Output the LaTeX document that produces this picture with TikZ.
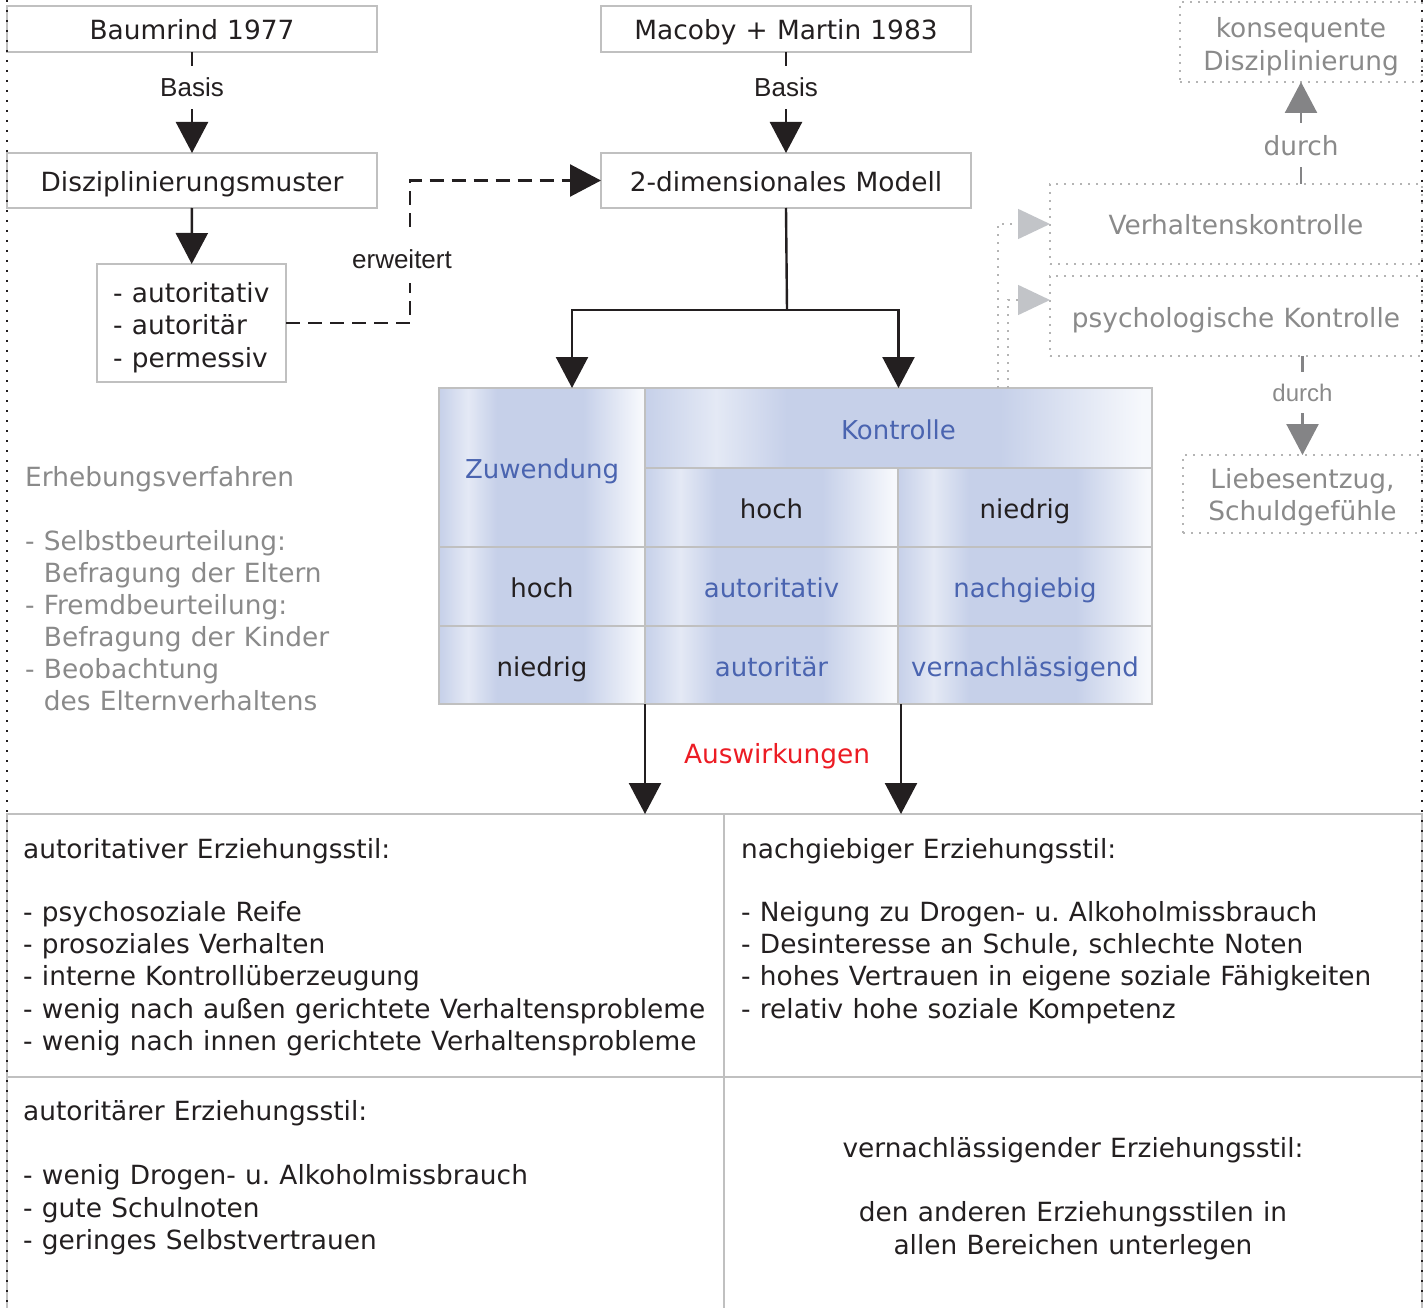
\documentclass[tikz,border=0pt]{standalone}
\usepackage{fontspec}
\setmainfont{DejaVu Sans}[WordSpace=1.1]
\newfontfamily\arialfont{Liberation Sans}
\usetikzlibrary{arrows.meta}
\frenchspacing

\definecolor{boxgray}{HTML}{C0C0C0}
\definecolor{txtgray}{HTML}{8A8A8A}
\definecolor{dotgray}{HTML}{B4B4B4}
\definecolor{arrgray}{HTML}{848486}
\definecolor{tipgray}{HTML}{C2C4C8}
\definecolor{cellblue}{HTML}{C6D0E9}
\definecolor{celllight}{HTML}{E4E9F5}
\definecolor{cellwhite}{HTML}{F6F8FC}
\definecolor{bluetext}{HTML}{4A64B0}
\definecolor{redtext}{HTML}{EC1C24}
\definecolor{ink}{HTML}{231F20}

% soft horizontal sheen used in every cell of the matrix
\pgfdeclarehorizontalshading{cellshade}{100bp}{color(0bp)=(cellblue); color(25bp)=(cellblue); color(32bp)=(celllight); color(39bp)=(cellblue); color(60bp)=(cellblue); color(74bp)=(cellwhite); color(100bp)=(cellwhite)}

\tikzset{
  basefont/.style={font=\fontsize{26.4}{32.3}\selectfont},
  cellfont/.style={font=\fontsize{26}{32}\selectfont},
  box/.style={basefont, draw=boxgray, line width=2.4pt, inner sep=0pt, outer sep=0pt, text=ink},
  oneline/.style={text height=24pt, text depth=2pt},
  cell/.style={cellfont, oneline, draw=boxgray, line width=2.6pt, shading=cellshade, inner sep=0pt, outer sep=0pt, text=ink},
  hdr/.style={cell, text=bluetext},
  softbox/.style={basefont, draw=dotgray, line width=1.6pt, dash pattern=on 1.6pt off 6.4pt, inner sep=0pt, outer sep=0pt, text=txtgray, align=center},
  arr/.style={draw=ink, line width=2.4pt, -{Triangle[length=31pt,width=32pt]}},
  plain/.style={draw=ink, line width=2.4pt},
  dashconn/.style={draw=ink, line width=2.4pt, dash pattern=on 14pt off 8pt, -{Triangle[length=31pt,width=32pt]}},
  grayarr/.style={draw=arrgray, line width=2.4pt, -{Triangle[length=31pt,width=32pt,color=arrgray]}},
  softconn/.style={draw=dotgray, line width=1.6pt, dash pattern=on 1.6pt off 6.4pt, -{Triangle[length=32pt,width=30pt,color=tipgray]}},
  lbl/.style={font=\fontsize{26}{30}\selectfont\arialfont, text=ink, fill=white, inner xsep=4pt, inner ysep=12pt},
  softlbl/.style={basefont, text=txtgray, fill=white, inner xsep=4pt, inner ysep=12pt},
  txt/.style={basefont, text=ink, inner sep=0pt, align=left},
  graytxt/.style={font=\fontsize{26.4}{32}\selectfont, text=txtgray, inner sep=0pt, align=left},
  pageborder/.style={draw=ink, line width=2pt, dash pattern=on 2pt off 8pt},
}

\begin{document}
\begin{tikzpicture}[x=1pt, y=-1pt]
\useasboundingbox (0,0) rectangle (1428,1308);

% --- left branch: Baumrind
\node[box, oneline, minimum width=370pt, minimum height=46pt] (baum) at (192,29) {Baumrind 1977};
\node[box, oneline, minimum width=370pt, minimum height=55pt] (dis) at (192,180.5) {Disziplinierungsmuster};
\node[box, minimum width=189pt, minimum height=118pt] (list) at (191.5,323) {};
\node[txt, font=\fontsize{26.4}{32.5}\selectfont, anchor=north west] (listtxt) at (113,282) {- autoritativ\\- autoritär\\- permessiv};
\draw[arr] (baum) -- node[lbl, pos=0.35] (basisA) {Basis} (dis);
\draw[arr] (dis) -- (list);

% --- right branch: Macoby + Martin
\node[box, oneline, minimum width=370pt, minimum height=46pt] (mac) at (786,29) {Macoby + Martin 1983};
\node[box, oneline, minimum width=370pt, minimum height=55pt] (model) at (786,180.5) {2-dimensionales Modell};
\draw[arr] (mac) -- node[lbl, pos=0.35] (basisB) {Basis} (model);

% --- dashed extension link
\coordinate (bend) at (410,250);
\draw[dashconn] (list.east) -| (bend) |- (model.west);
\node[lbl, inner ysep=14pt] (erw) at (402,259) {erweitert};

% --- matrix of parenting styles
\node[cell, text=bluetext, minimum width=206pt, minimum height=159pt] (zuw) at (542,467.5) {Zuwendung};
\node[hdr, minimum width=507pt, minimum height=80pt] (kon) at (898.5,428) {Kontrolle};
\node[cell, minimum width=253pt, minimum height=79pt] (khoch) at (771.5,507.5) {hoch};
\node[cell, minimum width=254pt, minimum height=79pt] (kniedrig) at (1025,507.5) {niedrig};
\node[cell, minimum width=206pt, minimum height=79pt] (zhoch) at (542,586.5) {hoch};
\node[hdr, minimum width=253pt, minimum height=79pt] (autv) at (771.5,586.5) {autoritativ};
\node[hdr, minimum width=254pt, minimum height=79pt] (nachg) at (1025,586.5) {nachgiebig};
\node[cell, minimum width=206pt, minimum height=78pt] (zniedrig) at (542,665) {niedrig};
\node[hdr, minimum width=253pt, minimum height=78pt] (autr) at (771.5,665) {autoritär};
\node[hdr, minimum width=254pt, minimum height=78pt] (vern) at (1025,665) {vernachlässigend};

% --- model splits into the two dimensions
\coordinate (split) at (787,310);
\coordinate (zin) at (572,388);
\draw[plain] (model.south) -- (split);
\draw[arr] (split) -| (zin);
\draw[arr] (split) -| (kon.north);

% --- grey side notes on control
\node[softbox, minimum width=242pt, minimum height=80pt] (kd) at (1301,42) {};
\node[basefont, text=txtgray, inner sep=0pt, align=center, anchor=north] (kdtxt) at ([yshift=-15.6pt]kd.north) {konsequente\\[0.7pt]Disziplinierung};
\node[softbox, oneline, minimum width=372pt, minimum height=80pt] (vk) at (1236,224) {Verhaltenskontrolle};
\node[softbox, oneline, minimum width=372pt, minimum height=80pt] (pk) at (1236,316) {psychologische Kontrolle};
\node[softbox, minimum width=239pt, minimum height=78pt] (le) at (1302.5,494) {};
\node[font=\fontsize{26.4}{32}\selectfont, text=txtgray, inner sep=0pt, align=center, anchor=north] (letxt) at ([yshift=-13.6pt]le.north) {Liebesentzug,\\Schuldgefühle};
\draw[grayarr] (kd.south |- vk.north) -- node[softlbl, pos=0.38] (durchA) {durch} (kd.south);
\draw[grayarr] (le.north |- pk.south) -- node[lbl, text=txtgray, pos=0.37, font=\fontsize{24}{28}\selectfont\arialfont] (durchB) {durch} (le.north);
\coordinate (vs) at (998,388);
\coordinate (ps) at (1008,388);
\draw[softconn] (vs) |- (vk.west);
\draw[softconn] (ps) |- ([yshift=16pt]pk.west);

% --- survey methods
\node[graytxt, anchor=north west] (erh) at (25,466) {Erhebungsverfahren\\[32pt]- Selbstbeurteilung:\\\hphantom{- }Befragung der Eltern\\- Fremdbeurteilung:\\\hphantom{- }Befragung der Kinder\\- Beobachtung\\\hphantom{- }des Elternverhaltens};

% --- effects
\node[box, minimum width=717pt, minimum height=263pt] (lt) at (365.5,945.5) {};
\node[box, minimum width=698pt, minimum height=263pt] (rt) at (1073,945.5) {};
\node[box, minimum width=717pt, minimum height=240pt] (lb) at (365.5,1197) {};
\node[box, minimum width=698pt, minimum height=240pt] (rb) at (1073,1197) {};
\draw[arr] (autr.south west) -- (autr.south west |- lt.north);
\draw[arr] ([xshift=3pt]autr.south east) -- ([xshift=3pt]autr.south east |- rt.north);
\node[basefont, text=redtext] (ausw) at (777,756) {Auswirkungen};

\node[txt, anchor=north west] (ltt) at (23,838) {autoritativer Erziehungsstil:\\[30.7pt]- psychosoziale Reife\\- prosoziales Verhalten\\- interne Kontrollüberzeugung\\- wenig nach außen gerichtete Verhaltensprobleme\\- wenig nach innen gerichtete Verhaltensprobleme};
\node[txt, anchor=north west] (rtt) at (741,838) {nachgiebiger Erziehungsstil:\\[30.7pt]- Neigung zu Drogen- u. Alkoholmissbrauch\\- Desinteresse an Schule, schlechte Noten\\- hohes Vertrauen in eigene soziale Fähigkeiten\\- relativ hohe soziale Kompetenz};
\node[txt, anchor=north west] (lbt) at (23,1100) {autoritärer Erziehungsstil:\\[32.3pt]- wenig Drogen- u. Alkoholmissbrauch\\- gute Schulnoten\\- geringes Selbstvertrauen};
\node[txt, align=center, anchor=north] (rbt) at (1073,1137) {vernachlässigender Erziehungsstil:\\[32.3pt]den anderen Erziehungsstilen in\\allen Bereichen unterlegen};

% --- dotted page margins
\draw[pageborder] (7,0) -- (7,1308);
\draw[pageborder] (1422,0) -- (1422,1308);
\end{tikzpicture}
\end{document}
